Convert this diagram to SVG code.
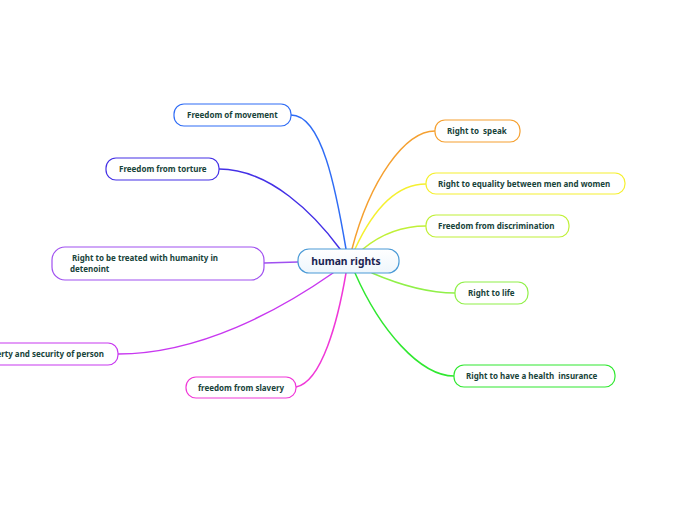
<svg xmlns="http://www.w3.org/2000/svg" width="696" height="520" viewBox="0 0 696 520">
<defs>
<linearGradient id="cg" x1="0" y1="0" x2="0" y2="1">
<stop offset="0" stop-color="#ffffff"/>
<stop offset="1" stop-color="#eef6fc"/>
</linearGradient>
</defs>
<style>
.n rect{fill:#ffffff;stroke-width:1.2}
.n text{font-family:"Noto Sans","Open Sans",sans-serif;font-weight:bold;font-size:8px;fill:#17433a}
.c path{fill:none;stroke-width:1.5;stroke-linecap:round}
</style>
<rect width="696" height="520" fill="#ffffff"/>
<g class="c" id="connectors">
<path d="M291,115 C322,115 336,190 346,249" stroke="#2f6cf5"/>
<path d="M219,169 C270,169 315,215 340,249" stroke="#4430e6"/>
<path d="M264,263 L298,262" stroke="#a050f0"/>
<path d="M118,354 C200,354 280,310 333,273" stroke="#c838f0"/>
<path d="M296,387 C322,382 338,320 346,273" stroke="#f038d8"/>
<path d="M435,131 C405,131 370,180 352,249" stroke="#f5a030"/>
<path d="M426,184 C395,184 372,212 355,249" stroke="#f5f030"/>
<path d="M426,226 C400,226 380,235 363,249" stroke="#c0f038"/>
<path d="M372,273 C400,285 430,293 455,293" stroke="#90f048"/>
<path d="M355,273 C380,330 420,376 454,376" stroke="#30e830"/>
</g>
<g id="center">
<rect x="298" y="249" width="101" height="24" rx="11" fill="url(#cg)" stroke="#4a9ad6" stroke-width="1.2"/>
<text x="346" y="265" text-anchor="middle" font-family="'Noto Sans','Open Sans',sans-serif" font-weight="bold" font-size="10.3" fill="#1a2450">human rights</text>
</g>
<g class="n" id="n-movement"><rect x="174" y="104" width="117" height="22" rx="10" stroke="#2f6cf5"/><text x="187" y="118">Freedom of movement</text></g>
<g class="n" id="n-torture"><rect x="106" y="158" width="113" height="22" rx="10" stroke="#4430e6"/><text x="119" y="172">Freedom from torture</text></g>
<g class="n" id="n-treated"><rect x="52" y="247" width="212" height="33" rx="13" stroke="#a050f0"/><text x="72" y="261">Right to be treated with humanity in</text><text x="70" y="272">detenoint</text></g>
<g class="n" id="n-liberty"><rect x="-40" y="343" width="158" height="22" rx="10" stroke="#c838f0"/><text x="104" y="357" text-anchor="end">Right to liberty and security of person</text></g>
<g class="n" id="n-slavery"><rect x="186" y="377" width="110" height="21" rx="10" stroke="#f038d8"/><text x="198" y="391">freedom from slavery</text></g>
<g class="n" id="n-speak"><rect x="435" y="120" width="85" height="22" rx="10" stroke="#f5a030"/><text x="447" y="134">Right to&#160; speak</text></g>
<g class="n" id="n-equality"><rect x="426" y="173" width="199" height="21" rx="10" stroke="#f5f030"/><text x="438" y="187">Right to equality between men and women</text></g>
<g class="n" id="n-discrimination"><rect x="426" y="215" width="143" height="22" rx="10" stroke="#c0f038"/><text x="438" y="229">Freedom from discrimination</text></g>
<g class="n" id="n-life"><rect x="455" y="282" width="73" height="22" rx="10" stroke="#90f048"/><text x="468" y="296">Right to life</text></g>
<g class="n" id="n-health"><rect x="454" y="365" width="161" height="22" rx="10" stroke="#30e830"/><text x="466" y="379">Right to have a health&#160; insurance</text></g>
</svg>
